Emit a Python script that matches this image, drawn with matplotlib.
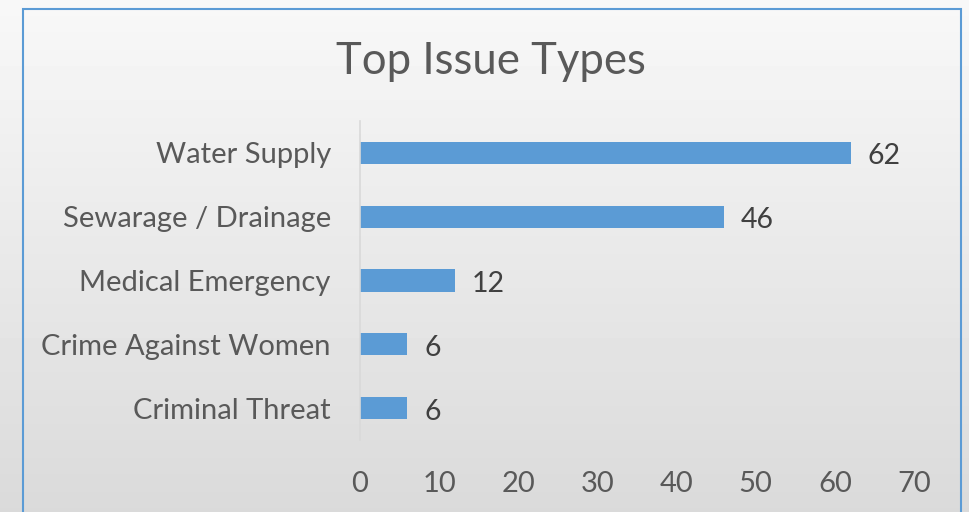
import numpy as np
import matplotlib.pyplot as plt
from matplotlib.patches import Rectangle

# issue counts, listed top to bottom as they appear on the chart
issue_types = ["Water Supply", "Sewarage / Drainage", "Medical Emergency",
               "Crime Against Women", "Criminal Threat"]
issue_counts = [62, 46, 12, 6, 6]
x_ticks = [0, 10, 20, 30, 40, 50, 60, 70]

text_color = "#595959"
bar_color = "#5b9bd5"
font = "Lato"

fig = plt.figure(figsize=(9.69, 5.12), dpi=100)

# soft vertical gradient behind everything
bg = fig.add_axes([0, 0, 1, 1], zorder=0)
grad = np.linspace(0.972, 0.855, 256).reshape(-1, 1)
bg.imshow(grad, aspect="auto", cmap="gray", vmin=0, vmax=1, extent=[0, 1, 0, 1])
bg.set_axis_off()

# chart frame
fig.patches.append(Rectangle((22.5 / 969, -0.05), (961 - 22.5) / 969, 1.05 - 8.5 / 512,
                             transform=fig.transFigure, fill=False,
                             edgecolor=bar_color, linewidth=1.5, zorder=1))

ax = fig.add_axes([360 / 969, 1 - 440 / 512, 554 / 969, 319 / 512], zorder=2)
ax.patch.set_alpha(0)

ypos = np.arange(len(issue_types))
bars = ax.barh(ypos, issue_counts, height=0.35, color=bar_color)
ax.set_ylim(len(issue_types) - 0.5, -0.5)
ax.set_xlim(0, 70)
ax.set_xticks(x_ticks)
ax.set_yticks(ypos)
ax.set_yticklabels(issue_types)

for b, v in zip(bars, issue_counts):
    ax.annotate(str(v), (b.get_width(), b.get_y() + b.get_height() / 2),
                xytext=(12, -2.5), textcoords="offset points", va="center", ha="left",
                fontsize=20.5, color="#404040", family=font)

for s in ["top", "right", "bottom"]:
    ax.spines[s].set_visible(False)
ax.spines["left"].set_color("#d9d9d9")
ax.spines["left"].set_linewidth(1.2)
ax.tick_params(axis="both", length=0, colors=text_color, labelsize=21)
ax.tick_params(axis="y", pad=21)
ax.tick_params(axis="x", pad=22.5)
for lbl in ax.get_xticklabels() + ax.get_yticklabels():
    lbl.set_family(font)

fig.text(491 / 969, 1 - 61 / 512, "Top Issue Types", ha="center", va="center",
         fontsize=31.5, color=text_color, family=font)

fig.savefig("out.png", dpi=100)
